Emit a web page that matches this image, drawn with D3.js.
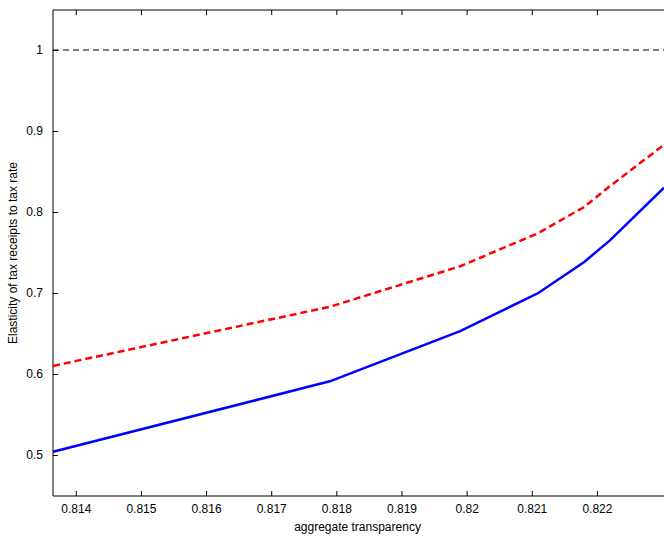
<!DOCTYPE html>
<html><head><meta charset="UTF-8">
<script src="https://d3js.org/d3.v7.min.js"></script>
<style>body{margin:0;background:#fff}svg{display:block}text{font-family:"Liberation Sans",Arial,sans-serif;font-size:12px}</style>
</head><body>
<script>
const blueX = [0.81365, 0.8179, 0.8199, 0.8211, 0.8218, 0.8222, 0.82303];
const blueY = [0.504, 0.591, 0.653, 0.700, 0.738, 0.765, 0.830];
const redX = [0.81365, 0.8179, 0.8199, 0.8211, 0.8218, 0.8222, 0.82303];
const redY = [0.610, 0.683, 0.733, 0.774, 0.806, 0.832, 0.883];
const xTicks = [0.814, 0.815, 0.816, 0.817, 0.818, 0.819, 0.82, 0.821, 0.822];
const yTicks = [0.5, 0.6, 0.7, 0.8, 0.9, 1];

const w = 664, h = 539, L = 53, R = 664, T = 10, B = 496;
const x = d3.scaleLinear().domain([0.81365, 0.82303]).range([L, R]);
const y = d3.scaleLinear().domain([0.4494, 1.0494]).range([B, T]);
const svg = d3.select("body").append("svg").attr("width", w).attr("height", h);

svg.append("path").attr("d", `M${R},${T}H${L}V${B}H${R}`).attr("fill", "none").attr("stroke", "#000");

svg.append("g").attr("transform", `translate(0,${B})`)
  .call(d3.axisBottom(x).tickValues(xTicks).tickFormat(d => String(+d.toFixed(3))).tickSizeInner(-5).tickSizeOuter(0).tickPadding(8))
  .call(g => g.select(".domain").remove());
svg.append("g").attr("transform", `translate(0,${T})`)
  .call(d3.axisTop(x).tickValues(xTicks).tickFormat("").tickSizeInner(-5).tickSizeOuter(0))
  .call(g => g.select(".domain").remove());
svg.append("g").attr("transform", `translate(${L},0)`)
  .call(d3.axisLeft(y).tickValues(yTicks).tickFormat(d => String(d)).tickSizeInner(-5).tickSizeOuter(0).tickPadding(10))
  .call(g => g.select(".domain").remove());
svg.selectAll(".tick text").style("font-size", "12px");

svg.append("line").attr("x1", L).attr("x2", R).attr("y1", y(1)).attr("y2", y(1))
  .attr("stroke", "#000").attr("stroke-dasharray", "6,4");

const line = d3.line().x(d => x(d[0])).y(d => y(d[1]));
svg.append("path").datum(redX.map((v, i) => [v, redY[i]])).attr("d", line)
  .attr("fill", "none").attr("stroke", "#ff0000").attr("stroke-width", 2.5).attr("stroke-dasharray", "7,4");
svg.append("path").datum(blueX.map((v, i) => [v, blueY[i]])).attr("d", line)
  .attr("fill", "none").attr("stroke", "#0000ff").attr("stroke-width", 2.5);

svg.append("text").attr("x", (L + R) / 2 - 1).attr("y", 531).attr("text-anchor", "middle").text("aggregate transparency");
svg.append("text").attr("transform", `translate(17,${(T + B) / 2}) rotate(-90)`).attr("text-anchor", "middle").text("Elasticity of tax receipts to tax rate");
</script>
</body></html>
